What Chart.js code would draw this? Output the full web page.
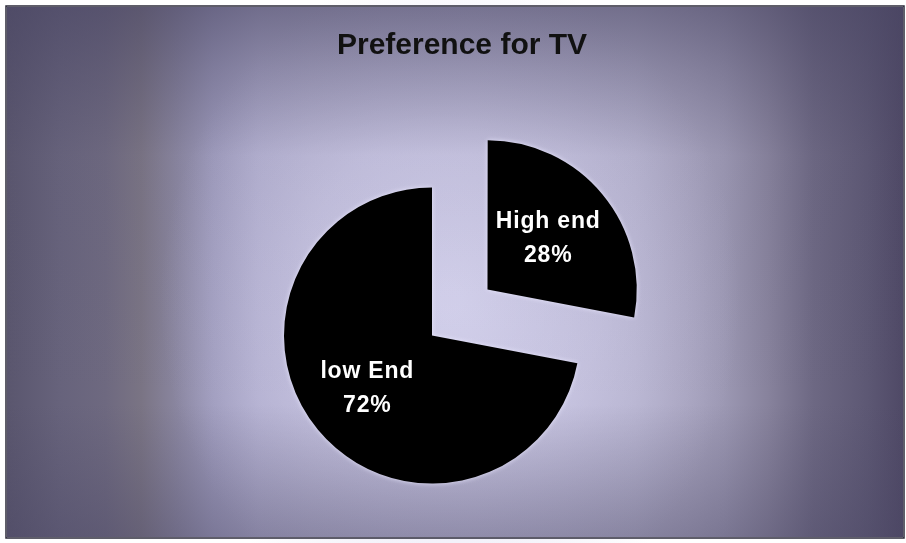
<!DOCTYPE html>
<html>
<head>
<meta charset="utf-8">
<title>Preference for TV</title>
<script src="https://cdn.jsdelivr.net/npm/chart.js@4"></script>
<style>
  html, body { margin: 0; padding: 0; background: #fff; }
  #wrap { position: relative; width: 906px; height: 543px; }
</style>
</head>
<body>
<div id="wrap"><canvas id="grafico" width="906" height="543"></canvas></div>
<script>
// dados do grafico
const categorias = ['High end', 'low End'];
const valores = [28, 72];
const titulo = 'Preference for TV';

// fatia destacada (High end) afastada do centro
const deslocamentos = [288, 0];

// fundo: faixas verticais + brilho central, com moldura branca
const fundo_plugin = {
    id: 'fundo',
    beforeDraw(chart) {
        const ctx = chart.ctx;
        const w = chart.width, h = chart.height;
        ctx.save();
        ctx.fillStyle = '#ffffff';
        ctx.fillRect(0, 0, w, h);

        const x0 = 7, y0 = 7, x1 = 903, y1 = 537;
        const faixas = ctx.createLinearGradient(x0, 0, x1, 0);
        faixas.addColorStop(0.00, '#5a566e');
        faixas.addColorStop(0.06, '#67637c');
        faixas.addColorStop(0.11, '#6e6980');
        faixas.addColorStop(0.15, '#7a7484');
        faixas.addColorStop(0.19, '#8a86a0');
        faixas.addColorStop(0.23, '#9d9abb');
        faixas.addColorStop(0.28, '#aeabcb');
        faixas.addColorStop(0.34, '#b4b1cf');
        faixas.addColorStop(0.42, '#b8b5d3');
        faixas.addColorStop(0.52, '#bab7d4');
        faixas.addColorStop(0.62, '#b7b4d0');
        faixas.addColorStop(0.70, '#b2afca');
        faixas.addColorStop(0.76, '#a6a2bd');
        faixas.addColorStop(0.80, '#9c98b3');
        faixas.addColorStop(0.85, '#87829c');
        faixas.addColorStop(0.90, '#6d6883');
        faixas.addColorStop(0.96, '#5d5874');
        faixas.addColorStop(1.00, '#4f4966');
        ctx.fillStyle = faixas;
        ctx.fillRect(x0, y0, x1 - x0, y1 - y0);

        // brilho em volta da pizza
        ctx.save();
        ctx.translate(450, 300);
        ctx.scale(1, 1.15);
        const brilho = ctx.createRadialGradient(0, 0, 10, 0, 0, 290);
        brilho.addColorStop(0, 'rgba(222,220,246,0.7)');
        brilho.addColorStop(0.5, 'rgba(214,211,240,0.45)');
        brilho.addColorStop(1, 'rgba(200,196,230,0)');
        ctx.fillStyle = brilho;
        ctx.fillRect(-450, -300, 906, 543);
        ctx.restore();

        // escurece topo e base
        const vert = ctx.createLinearGradient(0, y0, 0, y1);
        vert.addColorStop(0.00, 'rgba(72,68,98,0.6)');
        vert.addColorStop(0.12, 'rgba(72,68,98,0.35)');
        vert.addColorStop(0.28, 'rgba(72,68,98,0.05)');
        vert.addColorStop(0.75, 'rgba(72,68,98,0)');
        vert.addColorStop(0.88, 'rgba(72,68,98,0.2)');
        vert.addColorStop(1.00, 'rgba(72,68,98,0.4)');
        ctx.fillStyle = vert;
        ctx.fillRect(x0, y0, x1 - x0, y1 - y0);

        ctx.strokeStyle = '#2a2838';
        ctx.lineWidth = 1.5;
        ctx.strokeRect(x0 - 1, y0 - 1, x1 - x0 + 2, y1 - y0 + 2);
        ctx.restore();
    },
    beforeDatasetsDraw(chart) {
        const ctx = chart.ctx;
        ctx.save();
        ctx.shadowColor = 'rgba(235,233,255,0.9)';
        ctx.shadowBlur = 5;
    },
    afterDatasetsDraw(chart) {
        chart.ctx.restore();
    },
    afterLayout(chart) {
        // titulo um pouco a direita do centro da pizza
        if (chart.titleBlock) {
            chart.titleBlock.left += 30;
            chart.titleBlock.right += 30;
        }
    }
};

// rotulos brancos dentro das fatias
const rotulos_plugin = {
    id: 'rotulos',
    afterDatasetsDraw(chart) {
        const ctx = chart.ctx;
        const meta = chart.getDatasetMeta(0);
        const total = valores.reduce((a, b) => a + b, 0);
        ctx.save();
        ctx.fillStyle = '#ffffff';
        ctx.font = 'bold 23px "Liberation Sans", Arial, sans-serif';
        ctx.letterSpacing = '0.8px';
        ctx.textAlign = 'center';
        ctx.textBaseline = 'middle';
        meta.data.forEach((arc, i) => {
            const p = arc.getProps(['x', 'y', 'startAngle', 'endAngle', 'outerRadius'], true);
            const meio = (p.startAngle + p.endAngle) / 2;
            const d = deslocamentos[i] / 4 + p.outerRadius * 0.55;
            const cx = p.x + Math.cos(meio) * d;
            const cy = p.y + Math.sin(meio) * d;
            const pct = Math.round(valores[i] / total * 100) + '%';
            ctx.fillText(categorias[i], cx - 2, cy - 16);
            ctx.fillText(pct, cx - 2, cy + 18);
        });
        ctx.restore();
    }
};

function exibir_grafico(grafico) {
    return new Chart(grafico, {
        type: 'pie',
        data: {
            labels: categorias,
            datasets: [{
                data: valores,
                backgroundColor: ['#000000', '#000000'],
                borderWidth: 0,
                offset: deslocamentos,
                hoverOffset: 0
            }]
        },
        options: {
            responsive: false,
            animation: false,
            events: [],
            radius: 148,
            layout: { padding: { top: 28, left: 0, right: 42, bottom: 0 } },
            plugins: {
                legend: { display: false },
                tooltip: { enabled: false },
                title: {
                    display: true,
                    text: titulo,
                    color: '#111111',
                    font: { family: '"Liberation Sans", Arial, sans-serif', size: 30, weight: 'bold', lineHeight: 1.2 },
                    padding: { top: 0, bottom: 64 }
                }
            }
        },
        plugins: [fundo_plugin, rotulos_plugin]
    });
}

exibir_grafico(document.getElementById('grafico'));
</script>
</body>
</html>
